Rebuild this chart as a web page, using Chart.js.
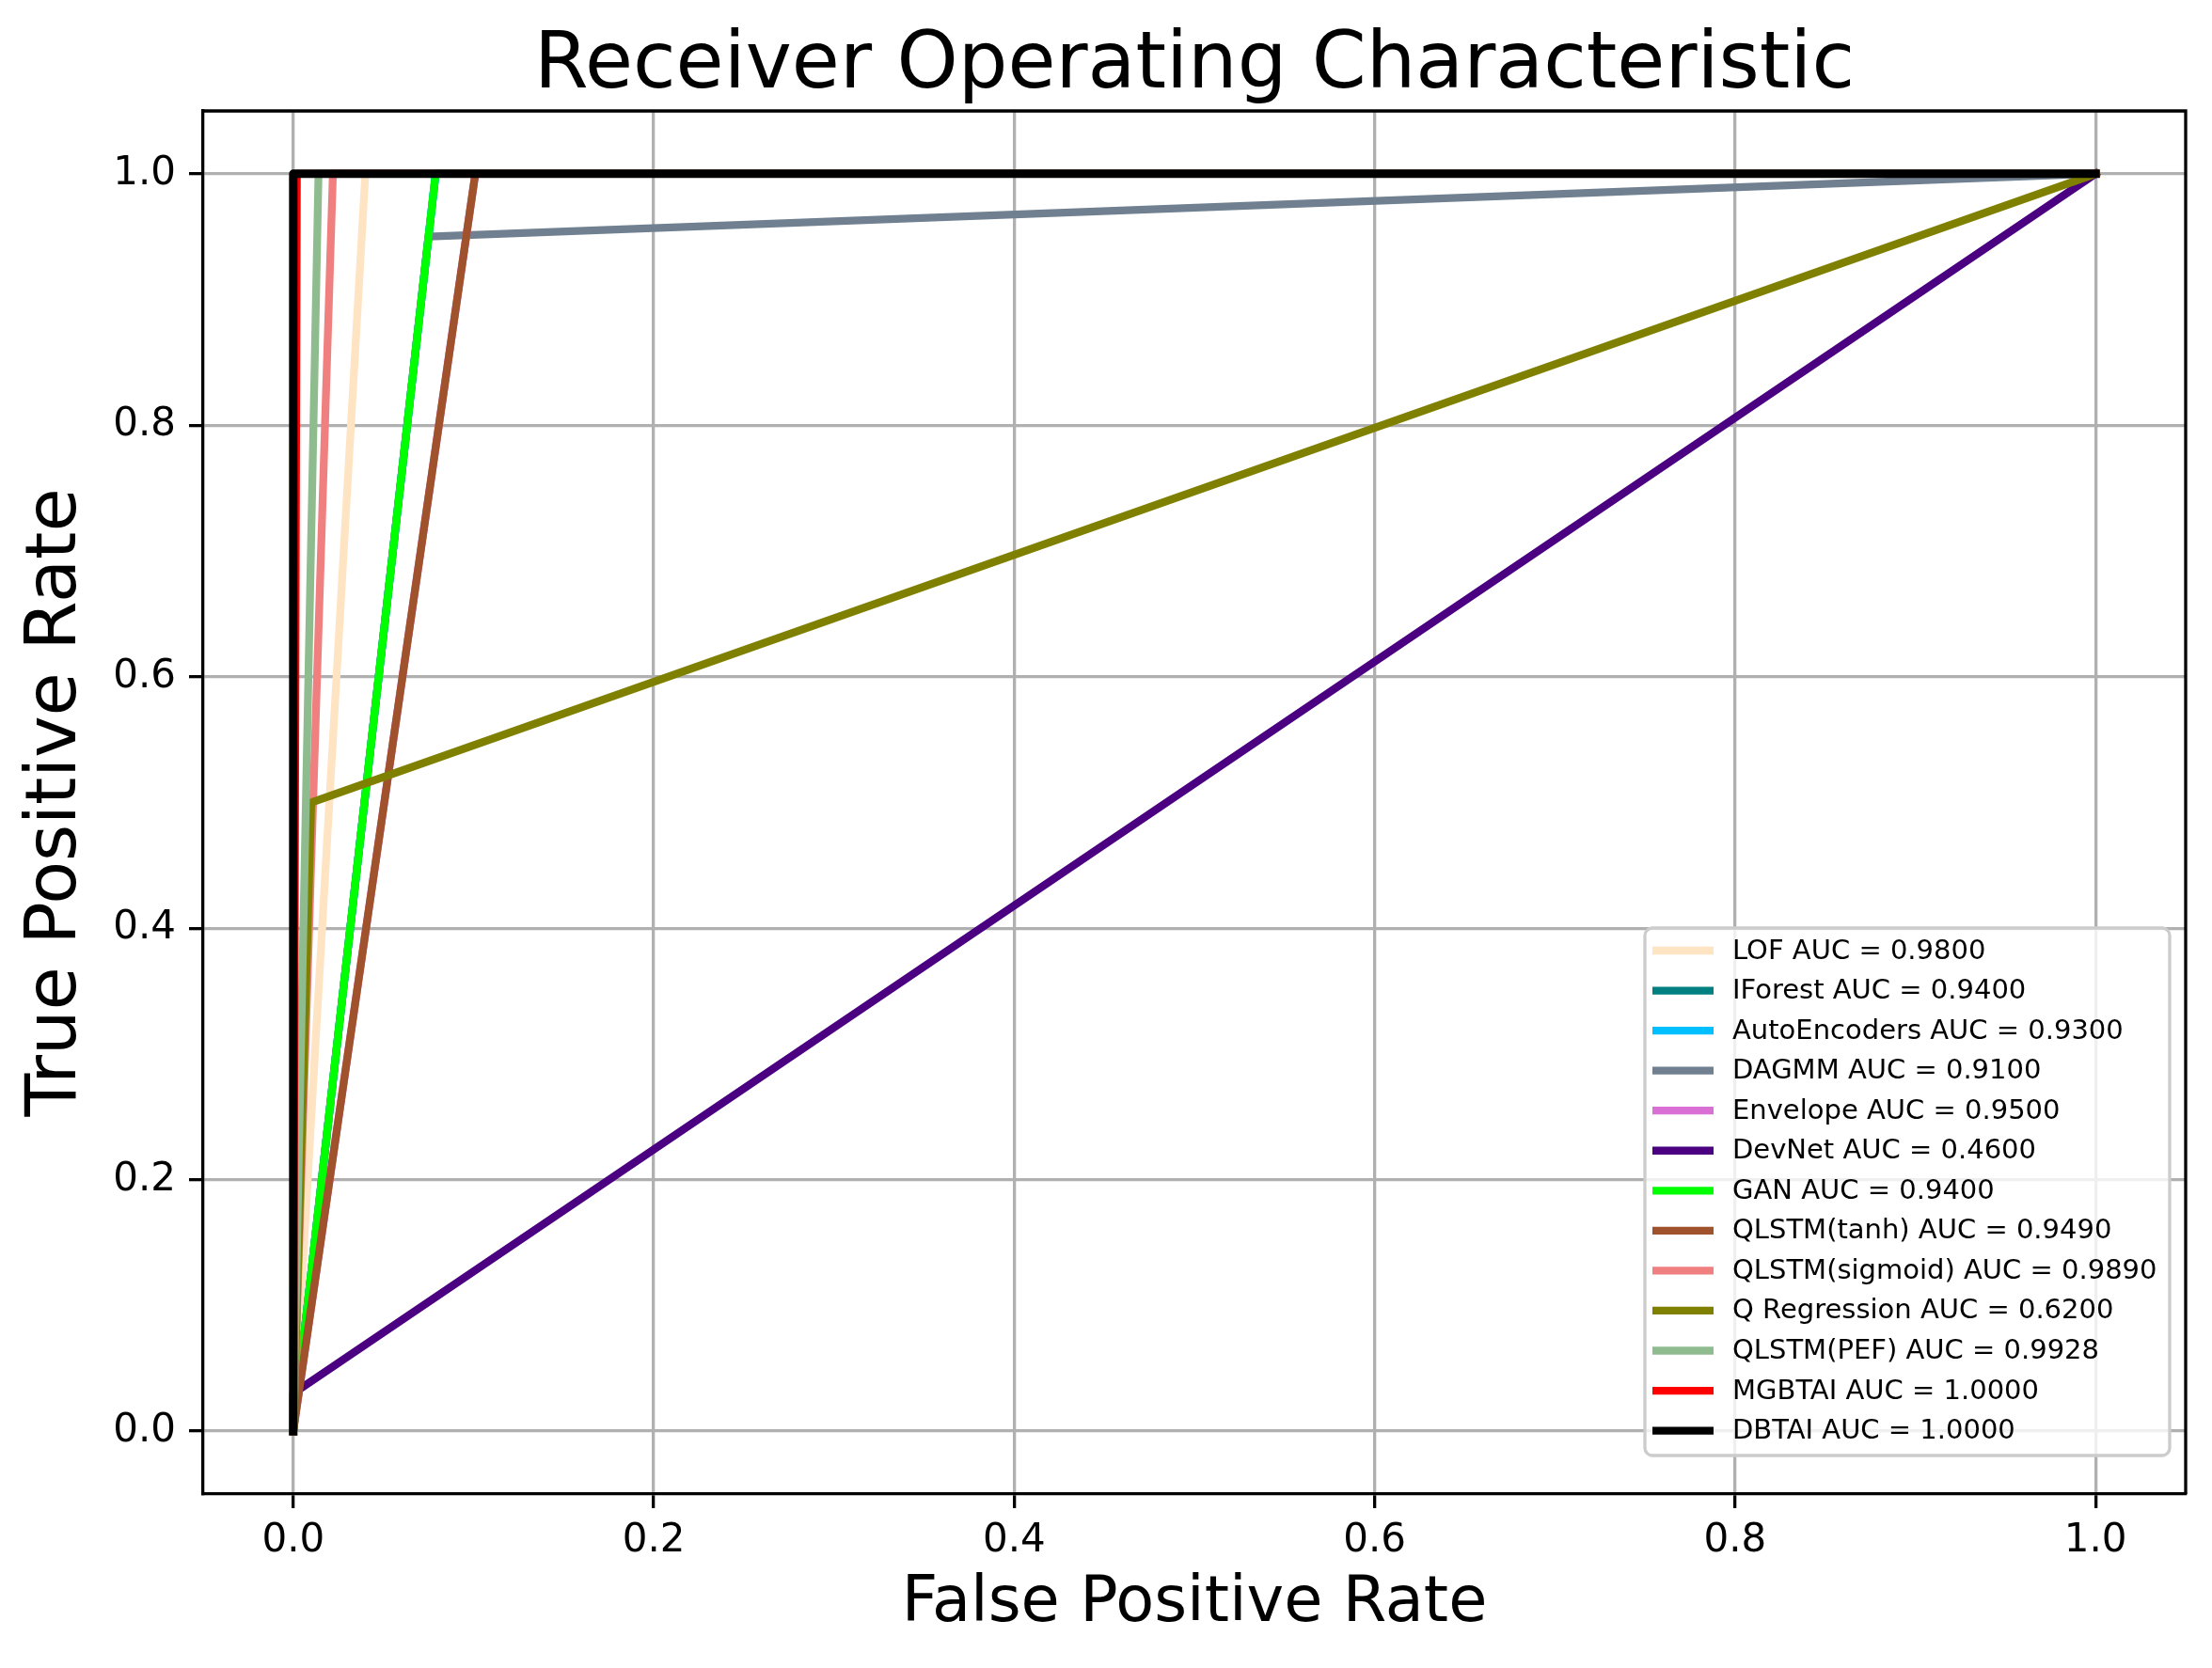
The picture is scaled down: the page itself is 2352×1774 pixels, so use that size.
<!DOCTYPE html>
<html>
<head>
<meta charset="utf-8">
<title>Receiver Operating Characteristic</title>
<script src="https://cdn.jsdelivr.net/npm/chart.js@4.4.1/dist/chart.umd.min.js"></script>
<style>
  html, body { margin: 0; padding: 0; background: #fff; }
  #wrap { width: 2352px; height: 1774px; }
</style>
</head>
<body>
<div id="wrap"><canvas id="roc" width="2352" height="1774"></canvas></div>
<script>
// model names, AUC values and line colours (legend order)
const modelNames = ["LOF", "IForest", "AutoEncoders", "DAGMM", "Envelope", "DevNet", "GAN",
  "QLSTM(tanh)", "QLSTM(sigmoid)", "Q Regression", "QLSTM(PEF)", "MGBTAI", "DBTAI"];
const modelAuc = [0.98, 0.94, 0.93, 0.91, 0.95, 0.46, 0.94, 0.949, 0.989, 0.62, 0.9928, 1.0, 1.0];
const modelColors = ["bisque", "teal", "deepskyblue", "slategray", "orchid", "indigo", "lime",
  "sienna", "lightcoral", "olive", "darkseagreen", "red", "black"];

// ROC points
const lofFpr = [0, 0.04, 1];          const lofTpr = [0, 1, 1];
const iforestFpr = [0, 0.079, 1];     const iforestTpr = [0, 1, 1];
const autoencFpr = [0, 0.079, 1];     const autoencTpr = [0, 1, 1];
const dagmmFpr = [0, 0.075, 1];       const dagmmTpr = [0, 0.95, 1];
const envelopeFpr = [0, 0.101, 1];    const envelopeTpr = [0, 1, 1];
const devnetFpr = [0, 0, 1];          const devnetTpr = [0, 0.03, 1];
const ganFpr = [0, 0.079, 1];         const ganTpr = [0, 1, 1];
const tanhFpr = [0, 0.101, 1];        const tanhTpr = [0, 1, 1];
const sigmoidFpr = [0, 0.022, 1];     const sigmoidTpr = [0, 1, 1];
const qregFpr = [0, 0.01, 1];         const qregTpr = [0, 0.5, 1];
const pefFpr = [0, 0.014, 1];         const pefTpr = [0, 1, 1];
const mgbtaiFpr = [0, 0.002, 1];      const mgbtaiTpr = [0, 1, 1];
const dbtaiFpr = [0, 0, 1];           const dbtaiTpr = [0, 1, 1];

const xTicks = [0, 0.2, 0.4, 0.6, 0.8, 1.0];
const yTicks = [0, 0.2, 0.4, 0.6, 0.8, 1.0];

const fprList = [lofFpr, iforestFpr, autoencFpr, dagmmFpr, envelopeFpr, devnetFpr, ganFpr,
  tanhFpr, sigmoidFpr, qregFpr, pefFpr, mgbtaiFpr, dbtaiFpr];
const tprList = [lofTpr, iforestTpr, autoencTpr, dagmmTpr, envelopeTpr, devnetTpr, ganTpr,
  tanhTpr, sigmoidTpr, qregTpr, pefTpr, mgbtaiTpr, dbtaiTpr];

const FONT = "'DejaVu Sans', 'Liberation Sans', sans-serif";

let datasets = [];
for (let i = 0; i < modelNames.length; i++) {
  datasets.push({
    label: modelNames[i] + " AUC = " + modelAuc[i].toFixed(4),
    data: fprList[i].map((x, j) => ({ x: x, y: tprList[i][j] })),
    borderColor: modelColors[i],
    backgroundColor: modelColors[i],
    borderWidth: i == modelNames.length - 1 ? 9 : 8.3,
    borderCapStyle: "square",
    borderJoinStyle: "round",
    showLine: true,
    pointRadius: 0,
    tension: 0,
    fill: false,
    // later series drawn on top, like matplotlib
    order: modelNames.length - i,
  });
}

// top/right spines and the legend box inside the plot
const frameLegend = {
  id: "frameLegend",
  afterDraw(chart) {
    const ctx = chart.ctx;
    const a = chart.chartArea;
    ctx.save();
    ctx.strokeStyle = "#000";
    ctx.lineWidth = 3.3;
    ctx.beginPath();
    ctx.moveTo(a.left, a.top);
    ctx.lineTo(a.right, a.top);
    ctx.lineTo(a.right, a.bottom);
    ctx.stroke();

    const w = 558, h = 561, r = 8;
    const lx = a.right - 17 - w;
    const ly = a.bottom - 41 - h;
    ctx.beginPath();
    ctx.moveTo(lx + r, ly);
    ctx.lineTo(lx + w - r, ly);
    ctx.arcTo(lx + w, ly, lx + w, ly + r, r);
    ctx.lineTo(lx + w, ly + h - r);
    ctx.arcTo(lx + w, ly + h, lx + w - r, ly + h, r);
    ctx.lineTo(lx + r, ly + h);
    ctx.arcTo(lx, ly + h, lx, ly + h - r, r);
    ctx.lineTo(lx, ly + r);
    ctx.arcTo(lx, ly, lx + r, ly, r);
    ctx.closePath();
    ctx.fillStyle = "rgba(255,255,255,0.8)";
    ctx.fill();
    ctx.strokeStyle = "#cccccc";
    ctx.lineWidth = 3.3;
    ctx.stroke();

    ctx.font = "29px " + FONT;
    ctx.textBaseline = "middle";
    ctx.textAlign = "left";
    chart.data.datasets.forEach((ds, i) => {
      const cy = ly + 24 + i * 42.55;
      ctx.strokeStyle = ds.borderColor;
      ctx.lineWidth = 8.3;
      ctx.lineCap = "butt";
      ctx.beginPath();
      ctx.moveTo(lx + 8, cy);
      ctx.lineTo(lx + 73, cy);
      ctx.stroke();
      ctx.fillStyle = "#000";
      ctx.fillText(ds.label, lx + 93, cy + 1);
    });
    ctx.restore();
  },
};

const gridOpts = {
  color: "#b0b0b0",
  lineWidth: 3.3,
  tickColor: "#000",
  tickLength: 15,
  tickWidth: 3.3,
  drawTicks: true,
};

new Chart(document.getElementById("roc"), {
  type: "scatter",
  data: { datasets: datasets },
  options: {
    responsive: false,
    animation: false,
    devicePixelRatio: 1,
    layout: { padding: { left: 0, right: 28, top: 0, bottom: 0 } },
    plugins: {
      legend: { display: false },
      tooltip: { enabled: false },
      title: {
        display: true,
        text: "Receiver Operating Characteristic",
        fullSize: false,
        color: "#000",
        font: { family: FONT, size: 83, weight: "normal", lineHeight: 1.1 },
        padding: { top: 26, bottom: 0.7 },
      },
    },
    scales: {
      x: {
        type: "linear",
        min: -0.05,
        max: 1.05,
        afterBuildTicks: (s) => { s.ticks = xTicks.map((v) => ({ value: v })); },
        afterFit: (s) => { s.height = 185; },
        ticks: {
          color: "#000",
          font: { family: FONT, size: 42 },
          padding: 10,
          maxRotation: 0,
          autoSkip: false,
          callback: (v) => Number(v).toFixed(1),
        },
        grid: gridOpts,
        border: { display: true, color: "#000", width: 3.3 },
        title: {
          display: true,
          text: "False Positive Rate",
          color: "#000",
          font: { family: FONT, size: 67 },
          padding: { top: 0, bottom: 27 },
        },
      },
      y: {
        type: "linear",
        min: -0.05,
        max: 1.05,
        afterBuildTicks: (s) => { s.ticks = yTicks.map((v) => ({ value: v })); },
        afterFit: (s) => { s.width = 216; },
        ticks: {
          color: "#000",
          font: { family: FONT, size: 42 },
          padding: 14,
          autoSkip: false,
          callback: (v) => Number(v).toFixed(1),
        },
        grid: gridOpts,
        border: { display: true, color: "#000", width: 3.3 },
        title: {
          display: true,
          text: "True Positive Rate",
          color: "#000",
          font: { family: FONT, size: 75 },
          padding: { top: 16, bottom: 0 },
        },
      },
    },
  },
  plugins: [frameLegend],
});
</script>
</body>
</html>
